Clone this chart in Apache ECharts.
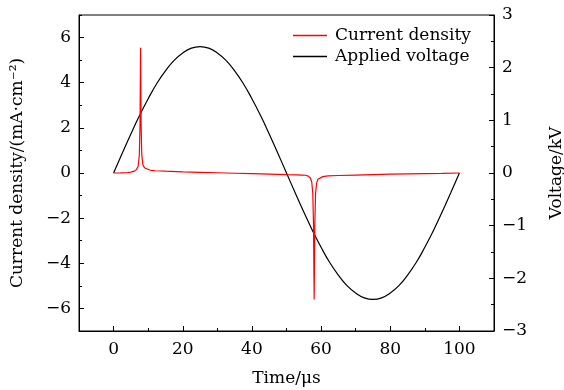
<!DOCTYPE html>
<html><head><meta charset="utf-8">
<script src="https://cdn.jsdelivr.net/npm/echarts@6/dist/echarts.min.js"></script>
<style>html,body{margin:0;padding:0;background:#fff}#c{width:564px;height:390px}</style>
</head><body><div id="c"></div>
<script>
// Time (μs) and current density (mA·cm^-2)
const currentTime = [0,2,4,5,6,6.6,7.1,7.45,7.65,7.8,7.95,8.15,8.5,9,9.5,10.5,12,15,20,25,30,35,40,45,50,53,54.5,55.5,56.3,56.9,57.3,57.6,57.8,58.0,58.2,58.4,58.7,59.1,59.6,60.5,62,65,70,75,80,85,90,95,100];
const currentValues = [0,0.005,0.02,0.04,0.08,0.15,0.3,0.8,2.2,5.55,2.2,0.8,0.35,0.22,0.17,0.13,0.1,0.08,0.05,0.03,0.01,-0.01,-0.03,-0.05,-0.07,-0.08,-0.09,-0.1,-0.14,-0.22,-0.4,-0.9,-2.2,-5.6,-2.2,-0.9,-0.45,-0.28,-0.2,-0.16,-0.13,-0.11,-0.09,-0.07,-0.05,-0.04,-0.03,-0.02,0];
// Applied voltage (kV)
const voltageTime = [0,2.5,5,7.5,10,12.5,15,17.5,20,22.5,25,27.5,30,32.5,35,37.5,40,42.5,45,47.5,50,52.5,55,57.5,60,62.5,65,67.5,70,72.5,75,77.5,80,82.5,85,87.5,90,92.5,95,97.5,100];
const voltageValues = [0,0.375,0.742,1.09,1.41,1.70,1.94,2.14,2.28,2.37,2.4,2.37,2.28,2.14,1.94,1.70,1.41,1.09,0.742,0.375,0,-0.375,-0.742,-1.09,-1.41,-1.70,-1.94,-2.14,-2.28,-2.37,-2.4,-2.37,-2.28,-2.14,-1.94,-1.70,-1.41,-1.09,-0.742,-0.375,0];
const legendNames = ['Current density','Applied voltage'];
// Tick positions
const xMajorTicks = [0,20,40,60,80,100];
const xMinorTicks = [-10,10,30,50,70,90,110];
const yLeftMajorTicks = [-6,-4,-2,0,2,4,6];
const yLeftMinorTicks = [-7,-5,-3,-1,1,3,5,7];
const yRightMajorTicks = [-3,-2,-1,0,1,2,3];
const yRightMinorTicks = [-2.5,-1.5,-0.5,0.5,1.5,2.5];

const font = 'DejaVu Serif';
const fs = 17;
const fmt = v => (v < 0 ? '\u2212' + Math.abs(v) : String(v));
const chart = echarts.init(document.getElementById('c'), null, {renderer:'canvas'});

function mainAxis(extra, ticks) {
  return Object.assign({
    type:'value',
    axisLine:{show:true,onZero:false,lineStyle:{color:'#000',width:1}},
    axisTick:{show:true,inside:true,length:5,lineStyle:{color:'#000'},customValues:ticks},
    splitLine:{show:false},
    axisLabel:{color:'#000',fontFamily:font,fontSize:fs,margin:8,formatter:fmt,customValues:ticks},
    nameTextStyle:{color:'#000',fontFamily:font,fontSize:fs}
  }, extra);
}
function minorAxis(extra, ticks) {
  return Object.assign({
    type:'value',
    axisLine:{show:false,onZero:false},
    axisTick:{show:true,inside:true,length:3,lineStyle:{color:'#000'},customValues:ticks},
    splitLine:{show:false},
    axisLabel:{show:false}
  }, extra);
}

chart.setOption({
  animation:false,
  backgroundColor:'#fff',
  grid:{left:79,right:70,top:15,bottom:59,show:true,borderColor:'#000',borderWidth:1,backgroundColor:'transparent',
        containLabel:false, outerBoundsMode:'none'},
  legend:{
    data:legendNames, orient:'vertical', left:288, top:22, itemWidth:34, itemHeight:1.3, itemGap:4, icon:'rect',
    textStyle:{color:'#000',fontFamily:font,fontSize:fs,padding:[0,0,0,3]}
  },
  xAxis:[
    mainAxis({min:-10,max:110,position:'bottom',name:'Time/\u03bcs',nameLocation:'middle',nameGap:39,
      axisLabel:{color:'#000',fontFamily:font,fontSize:fs,margin:10,formatter:fmt,customValues:xMajorTicks}}, xMajorTicks),
    minorAxis({min:-10,max:110,position:'bottom'}, xMinorTicks)
  ],
  yAxis:[
    mainAxis({min:-7,max:7,position:'left',
      name:'Current density/(mA\u00b7cm\u207b\u00b2)', nameLocation:'middle', nameGap:53}, yLeftMajorTicks),
    mainAxis({min:-3,max:3,position:'right',
      name:'Voltage/kV', nameLocation:'middle', nameGap:54, nameRotate:90}, yRightMajorTicks),
    minorAxis({min:-7,max:7,position:'left'}, yLeftMinorTicks),
    minorAxis({min:-3,max:3,position:'right'}, yRightMinorTicks)
  ],
  series:[
    {name:legendNames[0], type:'line', yAxisIndex:0, symbol:'none', smooth:false,
     lineStyle:{color:'#ff0000',width:1.2}, itemStyle:{color:'#ff0000'},
     data: currentTime.map((t,i)=>[t,currentValues[i]]), z:3},
    {name:legendNames[1], type:'line', yAxisIndex:1, symbol:'none', smooth:true,
     lineStyle:{color:'#000',width:1.2}, itemStyle:{color:'#000'},
     data: voltageTime.map((t,i)=>[t,voltageValues[i]]), z:2}
  ]
});
</script></body></html>
